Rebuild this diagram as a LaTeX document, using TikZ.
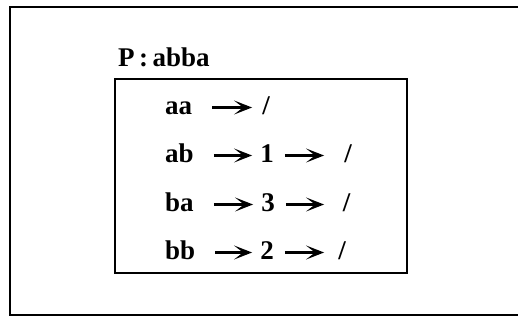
\documentclass[tikz,border=0pt]{standalone}
\usepackage{fontspec}
\setmainfont{Liberation Serif}
\usetikzlibrary{arrows.meta}
\begin{document}
\begin{tikzpicture}[x=1pt,y=1pt,
  txt/.style={font=\bfseries\fontsize{27}{31}\selectfont, inner sep=0pt, text height=15pt, text depth=0pt},
  key/.style={txt, anchor=base west},
  item/.style={txt, anchor=base},
  frame/.style={draw, line width=1.2pt},
  link/.style={-{Stealth[length=18pt,width=14pt,inset=9pt]}, line width=2.4pt},
  first/.style={link, shorten <=20pt, shorten >=8pt},
  second/.style={link, shorten <=11pt}]
  \useasboundingbox (0,0) rectangle (518,323);
  \clip (0,0) rectangle (518,323);
  % outer frame, its right side runs past the page edge
  \draw[frame] (10,8) rectangle (530,316);
  % title and the table of pairs
  \node[txt, anchor=base west] (title) at (118,256) {P\,:\,abba};
  \draw[frame] (115,50) rectangle (407,244);
  % rows: pair -> list of positions -> end mark
  \node[key] (aa) at (165,208) {aa};
  \node[item] (aaE) at (266,208) {/};
  \node[key] (ab) at (165,160) {ab};
  \node[item] (abN) at (267,160) {1};
  \node[item] (abE) at (348,160) {/};
  \node[key] (ba) at (165,111) {ba};
  \node[item] (baN) at (268,111) {3};
  \node[item] (baE) at (346.5,111) {/};
  \node[key] (bb) at (165,63) {bb};
  \node[item] (bbN) at (267,63) {2};
  \node[item] (bbE) at (342,63) {/};
  \draw[first, shorten >=10pt] (aa.east) -- (aaE.west);
  \draw[first] (ab.east) -- (abN.west);
  \draw[first] (ba.east) -- (baN.west);
  \draw[first] (bb.east) -- (bbN.west);
  \draw[second, shorten >=20pt] (abN.east) -- (abE.west);
  \draw[second, shorten >=18.5pt] (baN.east) -- (baE.west);
  \draw[second, shorten >=14pt] (bbN.east) -- (bbE.west);
\end{tikzpicture}
\end{document}
